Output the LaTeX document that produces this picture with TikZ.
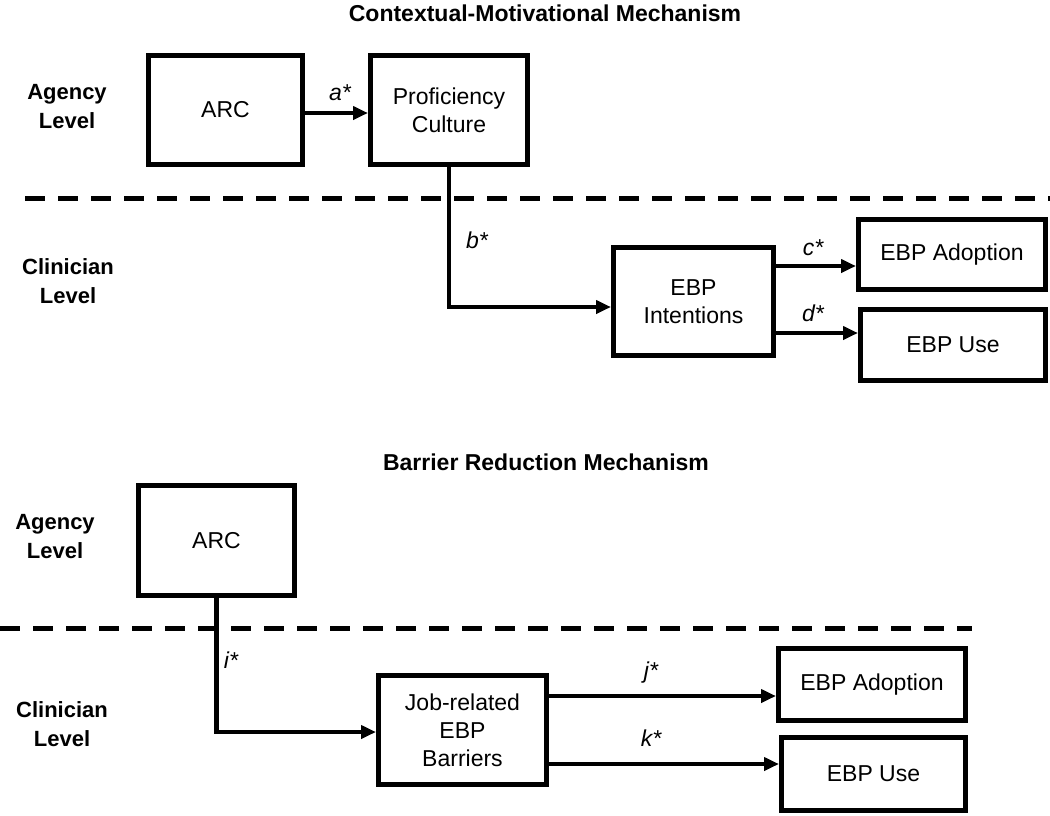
\documentclass[tikz,border=0pt]{standalone}
\usepackage{fontspec}
\setmainfont{Liberation Sans}
\usetikzlibrary{arrows.meta}
\begin{document}
\begin{tikzpicture}[x=1pt,y=-1pt,
  box/.style={draw,line width=5pt,align=center,inner sep=0pt,
    font=\fontsize{23}{28}\selectfont},
  lvl/.style={align=center,font=\bfseries\fontsize{22}{29}\selectfont},
  ttl/.style={font=\bfseries\fontsize{23}{27}\selectfont},
  lbl/.style={font=\itshape\fontsize{23}{28}\selectfont},
  arr/.style={line width=4.5pt,-{Triangle[length=15pt,width=13pt]}},
  conn/.style={line width=4.5pt},
  divider/.style={line width=5pt,dash pattern=on 20pt off 13pt}]
\useasboundingbox (0,0) rectangle (1050,815);

% ---------- Top: Contextual-Motivational Mechanism ----------
\node[ttl] (t1) at (545,13) {Contextual-Motivational Mechanism};
\node[lvl] (ag1) at (67,107) {Agency\\Level};
\node[lvl] (cl1) at (68,281) {Clinician\\Level};

\node[box,minimum width=154pt,minimum height=109pt] (arc1) at (225.5,110) {ARC};
\node[box,minimum width=157pt,minimum height=109pt] (prof) at (449,110) {Proficiency\\Culture};
\node[box,minimum width=160pt,minimum height=108pt] (intent) at (693.5,301.5) {EBP\\Intentions};
\node[box,minimum width=187pt,minimum height=70pt] (adopt1) at (952,254.5) {EBP Adoption};
\node[box,minimum width=185pt,minimum height=71pt] (use1) at (953,345) {EBP Use};

\coordinate (d1a) at (25,198);
\coordinate (d1b) at (1050,198);
\draw[divider] (d1a) -- (d1b);

\draw[arr] (arc1.east |- 0,113) -- (prof.west |- 0,113);
\draw[arr] (prof.south) |- (intent.west |- 0,307);
\draw[arr] (intent.east |- 0,266) -- (adopt1.west |- 0,266);
\draw[arr] (intent.east |- 0,333) -- (use1.west |- 0,333);

\node[lbl] (la) at (340,93) {a*};
\node[lbl] (lb) at (477,240) {b*};
\node[lbl] (lc) at (813,248) {c*};
\node[lbl] (ld) at (813,313) {d*};

% ---------- Bottom: Barrier Reduction Mechanism ----------
\node[ttl] (t2) at (546,462) {Barrier Reduction Mechanism};
\node[lvl] (ag2) at (55,537) {Agency\\Level};
\node[lvl] (cl2) at (62,724) {Clinician\\Level};

\node[box,minimum width=156pt,minimum height=110pt] (arc2) at (216.5,540.5) {ARC};
\node[box,minimum width=168pt,minimum height=109pt] (job) at (462.5,730) {Job-related\\EBP\\Barriers};
\node[box,minimum width=187pt,minimum height=72pt] (adopt2) at (872,684.5) {EBP Adoption};
\node[box,minimum width=184pt,minimum height=73pt] (use2) at (873.5,774) {EBP Use};

\coordinate (d2a) at (0,628);
\coordinate (d2b) at (972,628);
\draw[divider] (d2a) -- (d2b);

\draw[arr] (arc2.south) |- (job.west |- 0,732);
\draw[arr] (job.east |- 0,696) -- (adopt2.west |- 0,696);
\draw[arr] (job.east |- 0,764) -- (use2.west |- 0,764);

\node[lbl] (li) at (231,660) {i*};
\node[lbl] (lj) at (651,673) {j*};
\node[lbl] (lk) at (651,738) {k*};
\end{tikzpicture}
\end{document}
